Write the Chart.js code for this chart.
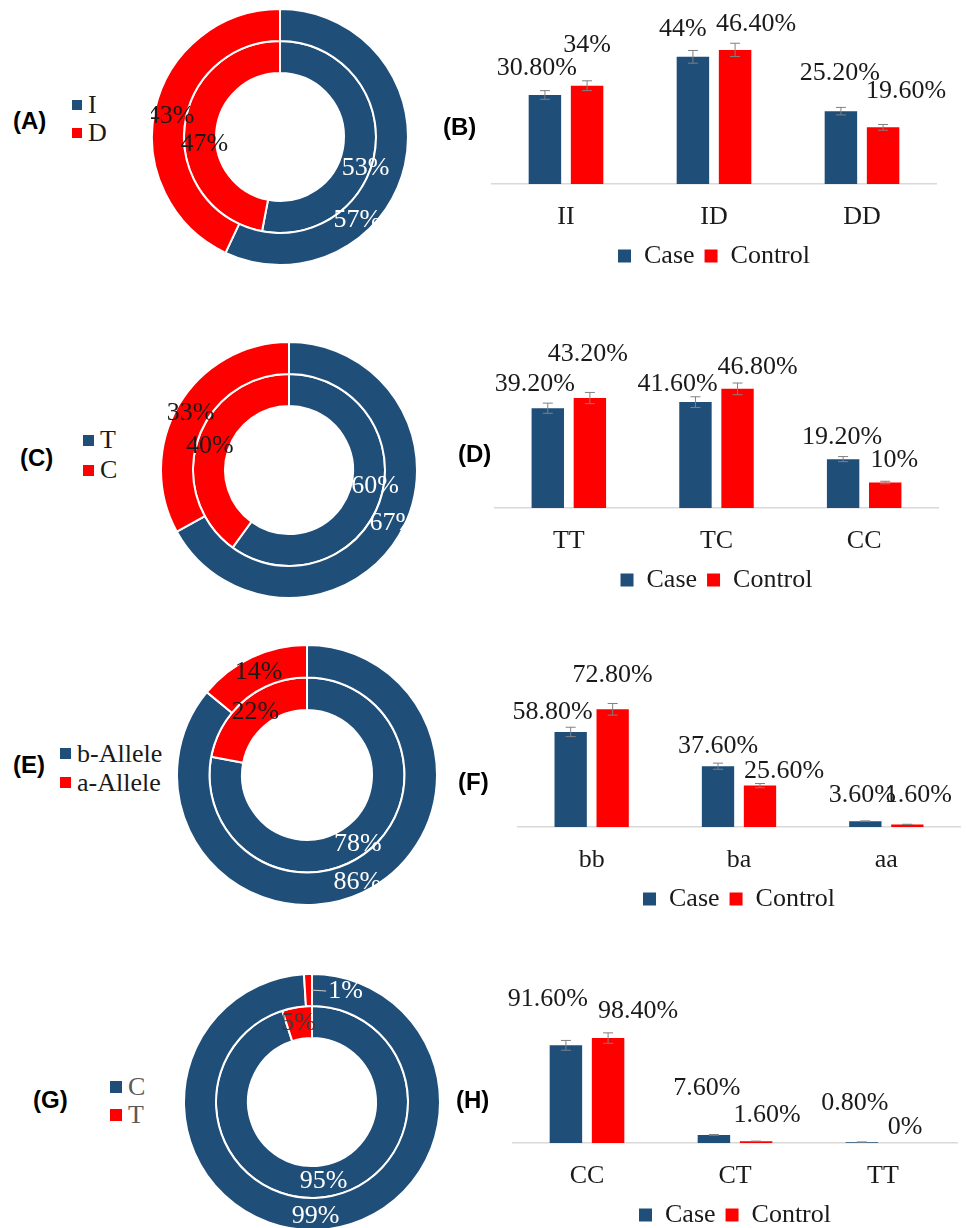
<!DOCTYPE html>
<html><head><meta charset="utf-8">
<script src="https://cdn.jsdelivr.net/npm/chart.js@4.4.1/dist/chart.umd.min.js"></script>
<style>
html,body{margin:0;padding:0;background:#fff;width:967px;height:1228px;overflow:hidden;position:relative;}
canvas{position:absolute;}
.pl{position:absolute;font:bold 24px "Liberation Sans",Arial,sans-serif;line-height:28px;color:#000;white-space:nowrap;}
.lg{position:absolute;font:26px "Liberation Serif","Times New Roman",serif;color:#1a1a1a;}
.lg .row{display:flex;align-items:center;white-space:nowrap;}
.lg .sw{display:inline-block;margin-right:6px;}
</style></head><body>
<script>
const BLUE = '#1f4e79', RED = '#ff0000';
const SERIF = '"Liberation Serif","Times New Roman",serif';

// ---- Doughnut data (outer ring = first series, inner ring = second) ----
const allelesA = ['I', 'D'];
const outerA = [57, 43];
const innerA = [53, 47];

const allelesC = ['T', 'C'];
const outerC = [67, 33];
const innerC = [60, 40];

const allelesE = ['b-Allele', 'a-Allele'];
const outerE = [86, 14];
const innerE = [78, 22];

const allelesG = ['C', 'T'];
const outerG = [99, 1];
const innerG = [95, 5];

// ---- Bar data ----
const seriesNames = ['Case', 'Control'];

const genotypesB = ['II', 'ID', 'DD'];
const caseB = [30.8, 44, 25.2];
const controlB = [34, 46.4, 19.6];
const caseErrB = [1.5, 2.2, 1.3];
const controlErrB = [1.7, 2.3, 1.0];

const genotypesD = ['TT', 'TC', 'CC'];
const caseD = [39.2, 41.6, 19.2];
const controlD = [43.2, 46.8, 10];
const caseErrD = [2.0, 2.1, 1.0];
const controlErrD = [2.2, 2.3, 0.5];

const genotypesF = ['bb', 'ba', 'aa'];
const caseF = [58.8, 37.6, 3.6];
const controlF = [72.8, 25.6, 1.6];
const caseErrF = [2.9, 1.9, 0.2];
const controlErrF = [3.6, 1.3, 0.1];

const genotypesH = ['CC', 'CT', 'TT'];
const caseH = [91.6, 7.6, 0.8];
const controlH = [98.4, 1.6, 0];
const caseErrH = [4.6, 0.4, 0.1];
const controlErrH = [4.9, 0.1, 0];

// ---- helpers ----
function fmt(v){ return Number.isInteger(v) ? v + '%' : v.toFixed(2) + '%'; }

function addCanvas(left, top, w, h){
  const c = document.createElement('canvas');
  c.width = w; c.height = h;
  c.style.left = left + 'px'; c.style.top = top + 'px';
  document.body.appendChild(c);
  return c;
}
function addText(cls, left, top, txt){
  const d = document.createElement('div');
  d.className = cls; d.style.left = left + 'px'; d.style.top = top + 'px';
  d.textContent = txt;
  document.body.appendChild(d);
}
function addLegend(chart, left, top, rowH, box, color){
  const d = document.createElement('div');
  d.className = 'lg'; d.style.left = left + 'px'; d.style.top = top + 'px';
  if (color) d.style.color = color;
  chart.data.labels.forEach((lab, i) => {
    const r = document.createElement('div'); r.className = 'row'; r.style.height = rowH + 'px';
    const s = document.createElement('span'); s.className = 'sw';
    s.style.width = box + 'px'; s.style.height = box + 'px';
    s.style.background = chart.data.datasets[0].backgroundColor[i];
    const t = document.createElement('span'); t.textContent = lab;
    r.appendChild(s); r.appendChild(t); d.appendChild(r);
  });
  document.body.appendChild(d);
}

function ringLabelPlugin(offsets, leaders, colors){
  return {
    id: 'ringLabels',
    afterDatasetsDraw(chart){
      const ctx = chart.ctx;
      ctx.save();
      ctx.font = '26px ' + SERIF;
      ctx.textAlign = 'center'; ctx.textBaseline = 'middle';
      chart.data.datasets.forEach((ds, di) => {
        const meta = chart.getDatasetMeta(di);
        meta.data.forEach((arc, i) => {
          const p = arc.getProps(['x','y','startAngle','endAngle','innerRadius','outerRadius'], true);
          const mid = (p.startAngle + p.endAngle) / 2;
          const r = (p.innerRadius + p.outerRadius) / 2;
          const px = p.x + Math.cos(mid) * r, py = p.y + Math.sin(mid) * r;
          const o = offsets[di][i];
          const lx = px + o[0], ly = py + o[1];
          const txt = ds.data[i] + '%';
          if (leaders && leaders[di][i]) {
            const w = ctx.measureText(txt).width;
            ctx.strokeStyle = '#d0d0d0'; ctx.lineWidth = 1;
            ctx.beginPath(); ctx.moveTo(px + 3, py); ctx.lineTo(lx - w/2 - 2, ly); ctx.stroke();
          }
          ctx.fillStyle = (colors && colors[di][i]) ? colors[di][i]
                        : (ds.backgroundColor[i] === BLUE ? '#ffffff' : '#1a1a1a');
          ctx.fillText(txt, lx, ly);
        });
      });
      ctx.restore();
    }
  };
}

function makeDonut(labels, outer, inner, cfg){
  const cv = addCanvas(cfg.left, cfg.top, cfg.size, cfg.size);
  const chart = new Chart(cv, {
    type: 'doughnut',
    data: {
      labels: labels,
      datasets: [
        { label: 'outer', data: outer, backgroundColor: [BLUE, RED], borderColor: '#ffffff', borderWidth: 2 },
        { label: 'inner', data: inner, backgroundColor: [BLUE, RED], borderColor: '#ffffff', borderWidth: 2 }
      ]
    },
    options: {
      responsive: false, animation: false, cutout: '50%',
      layout: { padding: 0 },
      plugins: { legend: { display: false }, tooltip: { enabled: false } }
    },
    plugins: [ringLabelPlugin(cfg.offsets, cfg.leaders, cfg.colors)]
  });
  addLegend(chart, cfg.lgX, cfg.lgY, cfg.rowH, cfg.box, cfg.lgColor);
  return chart;
}

function barDecorPlugin(errs, offsets){
  return {
    id: 'barDecor',
    afterDatasetsDraw(chart){
      const ctx = chart.ctx, ys = chart.scales.y;
      ctx.save();
      chart.data.datasets.forEach((ds, di) => {
        const meta = chart.getDatasetMeta(di);
        meta.data.forEach((bar, i) => {
          const v = ds.data[i], e = errs[di][i];
          const x = bar.x;
          if (e > 0) {
            const yt = ys.getPixelForValue(v + e), yb = ys.getPixelForValue(Math.max(v - e, 0));
            ctx.strokeStyle = '#808080'; ctx.lineWidth = 1;
            ctx.beginPath();
            ctx.moveTo(x, yt); ctx.lineTo(x, yb);
            ctx.moveTo(x - 5, yt); ctx.lineTo(x + 5, yt);
            ctx.moveTo(x - 5, yb); ctx.lineTo(x + 5, yb);
            ctx.stroke();
          }
          const o = offsets[di][i];
          ctx.font = '26px ' + SERIF;
          ctx.fillStyle = '#1a1a1a';
          ctx.textAlign = 'center'; ctx.textBaseline = 'middle';
          ctx.fillText(fmt(v), x + o[0], bar.y + o[1]);
        });
      });
      ctx.restore();
    }
  };
}

function makeBars(cats, caseVals, ctrlVals, caseErr, ctrlErr, cfg){
  const cv = addCanvas(430, cfg.top, 537, cfg.height);
  return new Chart(cv, {
    type: 'bar',
    data: {
      labels: cats,
      datasets: [
        { label: seriesNames[0], data: caseVals, backgroundColor: BLUE, categoryPercentage: 0.57, barPercentage: 0.77 },
        { label: seriesNames[1], data: ctrlVals, backgroundColor: RED, categoryPercentage: 0.57, barPercentage: 0.77 }
      ]
    },
    options: {
      responsive: false, animation: false,
      layout: { padding: { left: cfg.padL, right: cfg.padR, top: 0, bottom: 0 } },
      plugins: {
        legend: { position: 'bottom', labels: { boxWidth: 13, boxHeight: 13, padding: 10, color: '#1a1a1a', font: { family: SERIF, size: 26 } } },
        tooltip: { enabled: false }
      },
      scales: {
        x: {
          grid: { display: false, drawTicks: false },
          border: { display: true, color: '#d9d9d9', width: 1.5 },
          ticks: { color: '#1a1a1a', padding: 18, font: { family: SERIF, size: 26 } },
          afterFit: (s) => { s.height = 49; }
        },
        y: { display: false, min: 0, max: cfg.max }
      }
    },
    plugins: [barDecorPlugin([caseErr, ctrlErr], cfg.offsets)]
  });
}

// ---- build doughnuts ----
makeDonut(allelesA, outerA, innerA, { left: 151, top: 8, size: 258,
  offsets: [[[-32, 59], [0, 4]], [[6, 24], [4, 15]]],
  lgX: 72, lgY: 91, rowH: 28, box: 10 });
makeDonut(allelesC, outerC, innerC, { left: 160, top: 341, size: 258,
  offsets: [[[8, -4], [-2, 0]], [[10, -9], [-3, 1]]],
  lgX: 83, lgY: 425, rowH: 30, box: 11 });
makeDonut(allelesE, outerE, innerE, { left: 176, top: 644, size: 262,
  offsets: [[[2, 4], [0, 0]], [[-1, 7], [0, 0]]],
  lgX: 60, lgY: 739, rowH: 29, box: 11 });
makeDonut(allelesG, outerG, innerG, { left: 183, top: 973, size: 258,
  offsets: [[[0, 2], [37, 1]], [[-1, 0], [-1, 0]]],
  leaders: [[false, true], [false, false]],
  colors: [[null, '#ffffff'], [null, '#3a3a3a']],
  lgX: 110, lgY: 1073, rowH: 28, box: 12, lgColor: '#595959' });

// ---- build bar charts ----
makeBars(genotypesB, caseB, controlB, caseErrB, controlErrB, { top: -1, height: 280, padL: 62, padR: 31, max: 64,
  offsets: [[[-8, -27], [-10, -28], [-1, -38]], [[0, -41], [21, -26], [23, -36]]] });
makeBars(genotypesD, caseD, controlD, caseErrD, controlErrD, { top: 298, height: 305, padL: 65, padR: 29, max: 82.5,
  offsets: [[[-13, -24], [-18, -18], [-1, -22]], [[-2, -44], [20, -22], [9, -22]]] });
makeBars(genotypesF, caseF, controlF, caseErrF, controlErrF, { top: 638, height: 284, padL: 88, padR: 7, max: 116.9,
  offsets: [[[-18, -20], [0, -20], [-3, -26]], [[0, -34], [24, -14], [11, -29]]] });
makeBars(genotypesH, caseH, controlH, caseErrH, controlErrH, { top: 958, height: 280, padL: 83, padR: 10, max: 173.5,
  offsets: [[[-18, -46], [-7, -47], [-7, -39]], [[30, -27], [11, -26], [1, -16]]] });

// ---- panel letters ----
addText('pl', 13, 107, '(A)');
addText('pl', 443, 113, '(B)');
addText('pl', 20, 444, '(C)');
addText('pl', 458, 440, '(D)');
addText('pl', 13, 751, '(E)');
addText('pl', 458, 768, '(F)');
addText('pl', 33, 1086, '(G)');
addText('pl', 456, 1086, '(H)');
</script>
</body></html>
